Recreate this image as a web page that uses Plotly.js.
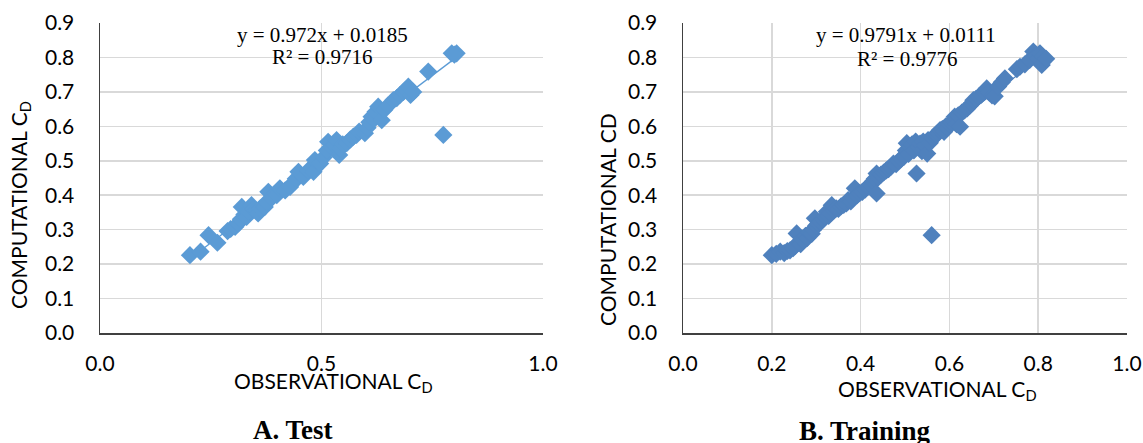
<!DOCTYPE html>
<html>
<head>
<meta charset="utf-8">
<script src="https://cdn.plot.ly/plotly-3.0.1.min.js"></script>
<style>html,body{margin:0;padding:0;background:#fff;}#chart{width:1143px;height:443px;}</style>
</head>
<body>
<div id="chart"></div>
<script>
// ---- Test set (panel A) ----
var testObs = [0.203,0.227,0.245,0.265,0.288,0.295,0.305,0.312,0.318,0.320,0.326,0.331,0.336,0.342,0.347,0.352,0.357,0.362,0.372,0.376,0.380,0.388,0.395,0.399,0.406,0.418,0.429,0.436,0.442,0.448,0.459,0.470,0.478,0.482,0.485,0.497,0.505,0.512,0.515,0.522,0.530,0.534,0.540,0.542,0.548,0.557,0.565,0.572,0.579,0.585,0.598,0.604,0.608,0.613,0.618,0.622,0.628,0.636,0.642,0.650,0.662,0.670,0.677,0.685,0.690,0.696,0.701,0.707,0.741,0.775,0.794,0.805,0.800];
var testComp = [0.226,0.236,0.284,0.262,0.296,0.302,0.308,0.318,0.330,0.366,0.344,0.337,0.352,0.371,0.360,0.356,0.347,0.362,0.366,0.380,0.410,0.392,0.404,0.400,0.420,0.414,0.424,0.436,0.448,0.468,0.453,0.472,0.480,0.468,0.502,0.492,0.510,0.530,0.555,0.540,0.546,0.560,0.517,0.535,0.548,0.551,0.562,0.570,0.575,0.585,0.580,0.596,0.612,0.628,0.620,0.642,0.657,0.618,0.648,0.660,0.676,0.682,0.691,0.700,0.706,0.715,0.691,0.700,0.759,0.575,0.812,0.812,0.808];
var testSlope = 0.972, testIntercept = 0.0185, testR2 = "0.9716";

// ---- Training set (panel B) ----
var trainObs = [0.200,0.210,0.219,0.228,0.235,0.241,0.248,0.252,0.256,0.260,0.265,0.268,0.271,0.276,0.280,0.285,0.290,0.293,0.297,0.300,0.305,0.310,0.316,0.320,0.324,0.328,0.332,0.335,0.340,0.345,0.350,0.356,0.362,0.368,0.372,0.378,0.383,0.387,0.392,0.398,0.404,0.410,0.416,0.422,0.428,0.432,0.436,0.436,0.440,0.446,0.452,0.458,0.463,0.468,0.474,0.480,0.486,0.492,0.498,0.502,0.504,0.508,0.512,0.516,0.520,0.524,0.526,0.530,0.534,0.538,0.541,0.545,0.550,0.552,0.556,0.560,0.562,0.566,0.570,0.575,0.579,0.584,0.588,0.592,0.596,0.600,0.604,0.609,0.612,0.616,0.620,0.624,0.628,0.634,0.640,0.646,0.650,0.654,0.660,0.666,0.672,0.678,0.684,0.690,0.696,0.702,0.710,0.718,0.725,0.752,0.759,0.770,0.781,0.789,0.796,0.800,0.804,0.808,0.811,0.818];
var trainComp = [0.226,0.230,0.236,0.232,0.238,0.240,0.246,0.252,0.289,0.262,0.258,0.275,0.269,0.282,0.276,0.290,0.288,0.300,0.333,0.312,0.318,0.322,0.330,0.338,0.352,0.340,0.348,0.371,0.356,0.362,0.360,0.368,0.372,0.376,0.386,0.382,0.392,0.420,0.400,0.406,0.410,0.416,0.424,0.432,0.440,0.448,0.405,0.463,0.452,0.460,0.466,0.472,0.476,0.482,0.492,0.490,0.500,0.506,0.512,0.530,0.551,0.520,0.540,0.548,0.530,0.556,0.463,0.540,0.550,0.528,0.556,0.545,0.521,0.560,0.552,0.284,0.566,0.572,0.576,0.580,0.589,0.592,0.584,0.600,0.596,0.606,0.612,0.618,0.628,0.606,0.632,0.599,0.640,0.646,0.652,0.660,0.666,0.676,0.680,0.686,0.692,0.700,0.710,0.698,0.690,0.687,0.716,0.728,0.739,0.766,0.773,0.780,0.793,0.817,0.806,0.796,0.812,0.778,0.802,0.796];
var trainSlope = 0.9791, trainIntercept = 0.0111, trainR2 = "0.9776";

var xTitle = "OBSERVATIONAL C<sub>D</sub>";
var yTitleA = "COMPUTATIONAL C<sub>D</sub>";
var yTitleB = "COMPUTATIONAL CD";
var captionA = "A. Test";
var captionB = "B. Training";

var colA = "#5B9BD5", colB = "#4F81BD";

function fitLine(xs, m, b) {
  var lo = Math.min.apply(null, xs), hi = Math.max.apply(null, xs);
  return {x: [lo, hi], y: [m*lo + b, m*hi + b]};
}
function fmtEq(m, b) { return "y = " + m + "x + " + b; }

var fa = fitLine(testObs, testSlope, testIntercept);
var fb = fitLine(trainObs, trainSlope, trainIntercept);

var data = [
  {x: fa.x, y: fa.y, type: "scatter", mode: "lines", xaxis: "x", yaxis: "y",
   line: {color: colA, width: 1.3}},
  {x: testObs, y: testComp, type: "scatter", mode: "markers", xaxis: "x", yaxis: "y",
   marker: {symbol: "diamond", size: 14, color: colA, line: {width: 0}}},
  {x: fb.x, y: fb.y, type: "scatter", mode: "lines", xaxis: "x2", yaxis: "y2",
   line: {color: colB, width: 1.3}},
  {x: trainObs, y: trainComp, type: "scatter", mode: "markers", xaxis: "x2", yaxis: "y2",
   marker: {symbol: "diamond", size: 14, color: colB, line: {width: 0}}}
];

var tickFont = {family: "Lato, 'Open Sans', sans-serif", size: 21, color: "#000"};
var grid = "#D9D9D9";
var axisLine = "#404040";
function xAx(domain, dtick, anchor) {
  return {domain: domain, range: [0, 1], dtick: dtick, tick0: 0, tickformat: ".1f", anchor: anchor,
    showgrid: true, gridcolor: grid, gridwidth: 1.5, zeroline: false, showline: true,
    linecolor: axisLine, linewidth: 1.5, ticks: "", ticklabelstandoff: 11, tickfont: tickFont, fixedrange: true};
}
function yAx(anchor) {
  return {domain: [0, 1], range: [0, 0.9], dtick: 0.1, tick0: 0, tickformat: ".1f", anchor: anchor,
    showgrid: true, gridcolor: grid, gridwidth: 1.5, zeroline: false, showline: true,
    linecolor: axisLine, linewidth: 1.5, ticks: "", ticklabelstandoff: 20, tickfont: tickFont, fixedrange: true};
}

var W = 1143, H = 443, L = 100, R = 16, T = 23, B = 110;
var pw = W - L - R, ph = H - T - B;
function px(x) { return (x - L) / pw; }
function py(y) { return (H - B - y) / ph; }

var labFont = {family: "Lato, 'Open Sans', sans-serif", size: 21, color: "#000"};
var eqFont = {family: "'Liberation Serif', 'DejaVu Serif', serif", size: 21, color: "#000"};
var capFont = {family: "'Liberation Serif', 'DejaVu Serif', serif", size: 27, color: "#000"};

function ann(text, x, y, font, angle) {
  return {text: text, xref: "paper", yref: "paper", x: px(x), y: py(y), xanchor: "center", yanchor: "middle",
    showarrow: false, font: font, textangle: angle || 0};
}

var layout = {
  width: W, height: H,
  margin: {l: L, r: R, t: T, b: B, pad: 0},
  paper_bgcolor: "#fff", plot_bgcolor: "#fff",
  showlegend: false,
  xaxis: xAx([0, px(543)], 0.5, "y"),
  yaxis: yAx("x"),
  xaxis2: xAx([px(683), 1], 0.2, "y2"),
  yaxis2: yAx("x2"),
  annotations: [
    ann(fmtEq(testSlope, testIntercept), 322, 35, eqFont),
    ann("R² = " + testR2, 322, 57, eqFont),
    ann(fmtEq(trainSlope, trainIntercept), 906, 35, eqFont),
    ann("R² = " + trainR2, 907, 59, eqFont),
    ann(xTitle, 333, 382, labFont),
    ann(xTitle, 937, 390, labFont),
    ann(yTitleA, 20, 205, labFont, -90),
    ann(yTitleB, 607, 220, labFont, -90),
    ann("<b>" + captionA + "</b>", 293, 430, capFont),
    ann("<b>" + captionB + "</b>", 865, 431, capFont)
  ]
};

Plotly.newPlot("chart", data, layout, {displayModeBar: false, staticPlot: true});
</script>
</body>
</html>
